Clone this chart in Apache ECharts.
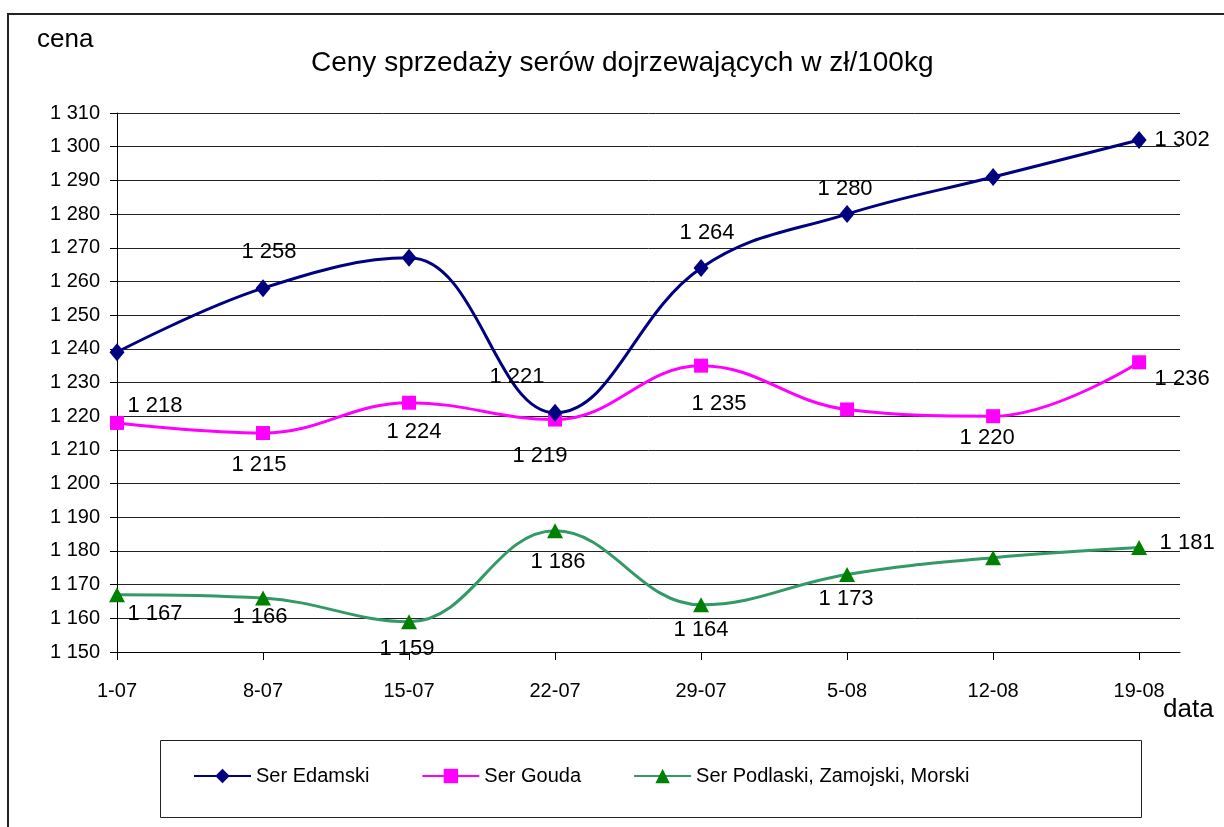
<!DOCTYPE html>
<html><head><meta charset="utf-8">
<script src="https://cdn.jsdelivr.net/npm/echarts@6/dist/echarts.min.js"></script>
<style>html,body{margin:0;padding:0;background:#fff}#c{width:1224px;height:827px}</style>
</head><body><div id="c"></div>
<script>
const categories = ['1-07','8-07','15-07','22-07','29-07','5-08','12-08','19-08'];
const edamski = [1239,1258,1267,1221,1264,1280,1291,1302];
const gouda = [1218,1215,1224,1219,1235,1222,1220,1236];
const podlaski = [1167,1166,1159,1186,1164,1173,1178,1181];
const seriesNames = ['Ser Edamski','Ser Gouda','Ser Podlaski, Zamojski, Morski'];
const yTicks = {min:1150, max:1310, step:10};

// label placement (style only): offset of label from the point, null = hidden
const labelOffsets = [
  [null,[6,-36],null,[-38,-36],[6,-35],[-2,-25],null,[43,0]],
  [[38,-17],[-4,32],[5,29],[-15,36],[18,38],null,[-6,22],[43,17]],
  [[38,19],[-3,19],[-2,27],[3,31],[0,25],[-1,24],null,[48,-5]]
];
const FONT = "'Liberation Sans', Arial, sans-serif";
const fmt = v => String(v).replace(/\B(?=(\d{3})+(?!\d))/g,' ');

function build(vals, si){
  return vals.map((v,i)=>{
    const off = labelOffsets[si][i];
    return {value:[i,v], label: off ? {show:true, position:'inside', offset:off, formatter: p=>fmt(p.value[1]), fontSize:22, color:'#000', fontFamily:FONT} : {show:false}};
  });
}
const chart = echarts.init(document.getElementById('c'), null, {renderer:'canvas'});
const styles = [
  {line:'#000080', sym:'diamond', size:[15,18], symColor:'#000080'},
  {line:'#FF00FF', sym:'rect', size:[14,14], symColor:'#FF00FF'},
  {line:'#339966', sym:'triangle', size:[16,15], symColor:'#008000'}
];
const data = [edamski, gouda, podlaski];
chart.setOption({
  animation:false,
  backgroundColor:'#fff',
  title:{text:'Ceny sprzedaży serów dojrzewających w zł/100kg', left:306, top:44, textStyle:{fontFamily:FONT, fontSize:28, fontWeight:'normal', color:'#000'}},
  grid:{left:117, right:44, top:113, bottom:175},
  legend:{left:188, top:761, itemWidth:57, itemHeight:18, itemGap:52, textStyle:{fontFamily:FONT, fontSize:20, color:'#000'}, data:seriesNames},
  xAxis:{type:'value', min:0, max:7.28,
    axisLine:{lineStyle:{color:'#000', width:1}},
    axisTick:{show:true, length:8, lineStyle:{color:'#000'}, customValues:categories.map((c,i)=>i)},
    axisLabel:{customValues:categories.map((c,i)=>i), formatter:v=>categories[v], margin:29, fontSize:20, fontFamily:FONT, color:'#000'},
    splitLine:{show:false}},
  yAxis:{type:'value', min:yTicks.min, max:yTicks.max, interval:yTicks.step,
    axisLine:{show:true, lineStyle:{color:'#000', width:1}},
    axisTick:{show:true, length:7, lineStyle:{color:'#000'}},
    axisLabel:{formatter:fmt, margin:17, fontSize:20, fontFamily:FONT, color:'#000'},
    splitLine:{show:true, lineStyle:{color:'#222', width:1}}},
  graphic:[
    {type:'rect', shape:{x:8,y:14,width:1240,height:840}, style:{fill:null, stroke:'#222', lineWidth:2}, silent:true, z:-1},
    {type:'rect', shape:{x:160.5,y:740.5,width:981,height:77}, style:{fill:null, stroke:'#222', lineWidth:1}, silent:true},
    {type:'text', left:37, top:27, style:{text:'cena', fontSize:26, fontFamily:FONT, fill:'#000'}},
    {type:'text', left:1163, top:697, style:{text:'data', fontSize:26, fontFamily:FONT, fill:'#000'}}
  ],
  series: data.map((vals,si)=>({
    name:seriesNames[si], type:'line', smooth:0.4,
    data:build(vals,si),
    symbol:styles[si].sym, symbolSize:styles[si].size, showAllSymbol:true,
    lineStyle:{color:styles[si].line, width:3},
    itemStyle:{color:styles[si].symColor},
    emphasis:{disabled:true},
    z: 3-si
  }))
});
</script></body></html>
